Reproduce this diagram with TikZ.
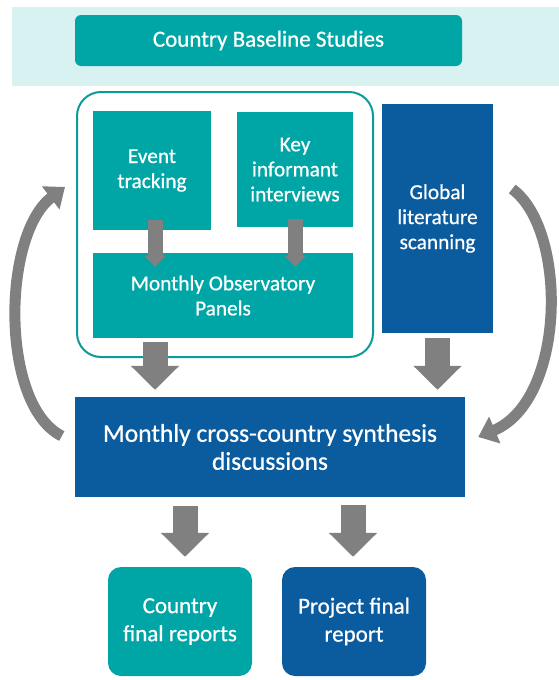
\documentclass[tikz,border=0pt]{standalone}
\usepackage{fontspec}
\setmainfont{Carlito}[FakeBold=0.7]
\usetikzlibrary{arrows.meta}
\definecolor{tealfill}{HTML}{00A6A6}
\definecolor{navyfill}{HTML}{0B5C9F}
\definecolor{bandfill}{HTML}{D8F1F1}
\definecolor{framecol}{HTML}{0F9A98}
\definecolor{arrowgray}{HTML}{808080}
\begin{document}
\begin{tikzpicture}[x=1pt,y=-1pt,
  box/.style={draw=none, inner sep=0pt, text=white, align=center},
  tealbox/.style={box, fill=tealfill},
  navybox/.style={box, fill=navyfill},
  smalltext/.style={font=\fontsize{21.3}{25}\selectfont},
  bigtext/.style={font=\fontsize{25.5}{28}\selectfont},
  midtext/.style={font=\fontsize{23}{28}\selectfont},
  thinarrow/.style={draw=arrowgray, line width=15pt, -{Triangle[length=11pt,width=21pt]}},
  blockarrow/.style={draw=arrowgray, line width=25pt, -{Triangle[length=24pt,width=47pt]}},
  looparrow/.style={draw=arrowgray, line width=11pt, -{Triangle[length=18pt,width=28pt]}},
]
\useasboundingbox (0,0) rectangle (559,680);

% top band with the baseline studies
\node[fill=bandfill, inner sep=0pt, minimum width=547pt, minimum height=79pt] (band) at (285.5,46.5) {};
\node[tealbox, midtext, rounded corners=6pt, minimum width=387pt, minimum height=51pt] (cbs) at (268.5,40.5) {Country Baseline Studies};

% country-level data collection
\node[draw=framecol, line width=2pt, rounded corners=24pt, minimum width=296pt, minimum height=265pt] (frame) at (225,224.5) {};
\node[tealbox, smalltext, minimum width=118pt, minimum height=119pt] (evt) at (152,170.5) {Event\\tracking};
\node[tealbox, smalltext, minimum width=116pt, minimum height=115pt] (kii) at (295,169.5) {Key\\informant\\interviews};
\node[tealbox, smalltext, minimum width=260pt, minimum height=85pt] (mop) at (223,295.5) {Monthly Observatory\\Panels};
\node[navybox, smalltext, minimum width=111pt, minimum height=229pt] (glob) at (437.5,218.5) {Global\\literature\\scanning};

% synthesis and outputs
\node[navybox, bigtext, minimum width=390pt, minimum height=100pt] (syn) at (270,447) {Monthly cross-country synthesis\\discussions};
\node[tealbox, midtext, rounded corners=13pt, minimum width=144pt, minimum height=109pt] (cfr) at (180,621.5) {Country\\final reports};
\node[navybox, midtext, rounded corners=13pt, minimum width=144pt, minimum height=109pt] (pfr) at (354,621.5) {Project final\\report};

% small arrows inside the frame
\draw[thinarrow] ([shift={(3,-10)}]evt.south) -- ([shift={(3,14)}]evt.south |- mop.north);
\draw[thinarrow] ([shift={(0,-8)}]kii.south) -- ([shift={(0,14)}]kii.south |- mop.north);

% block arrows into the synthesis
\draw[blockarrow] ([shift={(-68,4)}]mop.south) -- ([shift={(-68,-7)}]mop.south |- syn.north);
\draw[blockarrow] ([shift={(0,5)}]glob.south) -- ([shift={(0,-7)}]glob.south |- syn.north);

% block arrows to the reports
\draw[blockarrow] ([shift={(5,9)}]syn.south -| cfr.north) -- ([shift={(5,-10)}]cfr.north);
\draw[blockarrow] ([shift={(-1,8)}]syn.south -| pfr.north) -- ([shift={(-1,-10)}]pfr.north);

% feedback loops
\coordinate (ltail) at ([shift={(-13,-11)}]syn.west);
\coordinate (lhead) at ([shift={(-11,-37.5)}]frame.west);
\coordinate (rtail) at ([shift={(19,-29.5)}]glob.east);
\coordinate (rhead) at ([shift={(13,-10)}]syn.east);
\draw[looparrow] (ltail) .. controls (0,405) and (2,235) .. (lhead);
\draw[looparrow] (rtail) .. controls (568,230) and (566,400) .. (rhead);
\end{tikzpicture}
\end{document}
